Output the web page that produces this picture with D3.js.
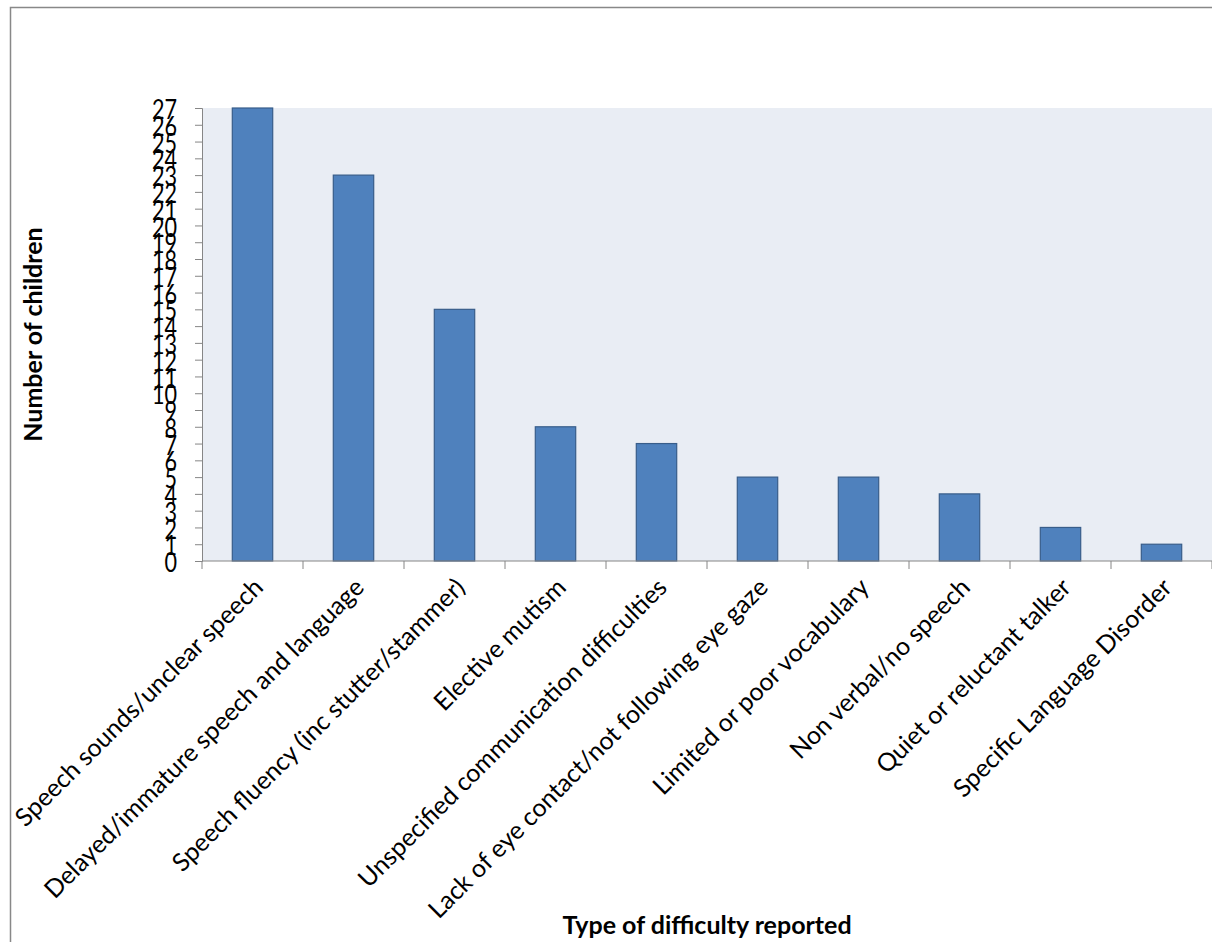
<!DOCTYPE html>
<html>
<head>
<meta charset="utf-8">
<script src="https://cdn.jsdelivr.net/npm/d3@7"></script>
<style>
  body { margin: 0; background: #fff; }
  text { font-family: Lato, "Open Sans", sans-serif; fill: #000; }
</style>
</head>
<body>
<div class="draw"></div>
<script>
const width = 1212
const height = 942
const margin = {top: 108, right: 0, bottom: 381, left: 202}

const categories = [
  "Speech sounds/unclear speech",
  "Delayed/immature speech and language",
  "Speech fluency (inc stutter/stammer)",
  "Elective mutism",
  "Unspecified communication difficulties",
  "Lack of eye contact/not following eye gaze",
  "Limited or poor vocabulary",
  "Non verbal/no speech",
  "Quiet or reluctant talker",
  "Specific Language Disorder"
]
const values = [27, 23, 15, 8, 7, 5, 5, 4, 2, 1]
const yTicks = d3.range(0, 28)

let svg = d3.select("div.draw")
    .append("svg")
    .attr("width", width)
    .attr("height", height)

// outer chart border (only top and left visible)
svg.append("rect")
    .attr("x", 10.5).attr("y", 7.5)
    .attr("width", width + 20).attr("height", height + 20)
    .attr("fill", "none")
    .attr("stroke", "#888")
    .attr("stroke-width", 1.5)

let x = d3.scaleBand()
    .domain(categories)
    .range([margin.left, width - margin.right])
    .paddingInner(0.6)
    .paddingOuter(0.3)

let y = d3.scaleLinear()
    .domain([0, 27])
    .range([height - margin.bottom, margin.top])

svg.append("rect")
    .attr("x", margin.left)
    .attr("y", margin.top)
    .attr("width", width - margin.right - margin.left)
    .attr("height", y(0) - margin.top)
    .attr("fill", "#E9EDF4")

svg.selectAll("rect.bar")
    .data(values)
    .enter()
    .append("rect")
    .attr("class", "bar")
    .attr("x", (d, i) => x(categories[i]))
    .attr("y", d => y(d))
    .attr("width", x.bandwidth())
    .attr("height", d => y(0) - y(d))
    .attr("fill", "#4F81BD")
    .attr("stroke", "#385D8A")
    .attr("stroke-width", 1.2)

// y axis
let yAxis = svg.append("g")
    .attr("transform", "translate(" + margin.left + ",0)")
    .call(d3.axisLeft(y).tickValues(yTicks).tickSize(7).tickFormat(d3.format("d")))
yAxis.select(".domain").attr("stroke", "#868686")
yAxis.selectAll(".tick line").attr("stroke", "#868686")
yAxis.selectAll(".tick text")
    .attr("x", 0)
    .attr("dy", 0)
    .attr("dominant-baseline", "central")
    .attr("transform", "translate(-25,0) scale(0.9,1.15)")
    .style("font-size", "24px")
    .style("font-family", "Lato, sans-serif")
    .attr("fill", "#000")

// x axis with ticks on category boundaries
let step = x.step()
let bounds = d3.range(0, categories.length + 1).map(i => margin.left + i * step)
let xg = svg.append("g")
xg.append("line")
    .attr("x1", margin.left).attr("x2", width)
    .attr("y1", y(0)).attr("y2", y(0))
    .attr("stroke", "#868686")
xg.selectAll("line.tick")
    .data(bounds)
    .enter()
    .append("line")
    .attr("class", "tick")
    .attr("x1", d => d).attr("x2", d => d)
    .attr("y1", y(0)).attr("y2", y(0) + 8)
    .attr("stroke", "#868686")

xg.selectAll("text.cat")
    .data(categories)
    .enter()
    .append("text")
    .attr("class", "cat")
    .attr("text-anchor", "end")
    .attr("transform", d => "translate(" + (x(d) + x.bandwidth() / 2 + 12) + "," + (y(0) + 28) + ") rotate(-45)")
    .style("font-size", "25px")
    .text(d => d)

// axis titles
svg.append("text")
    .attr("text-anchor", "middle")
    .attr("transform", "translate(42," + ((margin.top + y(0)) / 2) + ") rotate(-90)")
    .style("font-size", "25px")
    .style("font-weight", "bold")
    .text("Number of children")

svg.append("text")
    .attr("text-anchor", "middle")
    .attr("x", (margin.left + width) / 2)
    .attr("y", 934)
    .style("font-size", "25px")
    .style("font-weight", "bold")
    .text("Type of difficulty reported")
</script>
</body>
</html>
